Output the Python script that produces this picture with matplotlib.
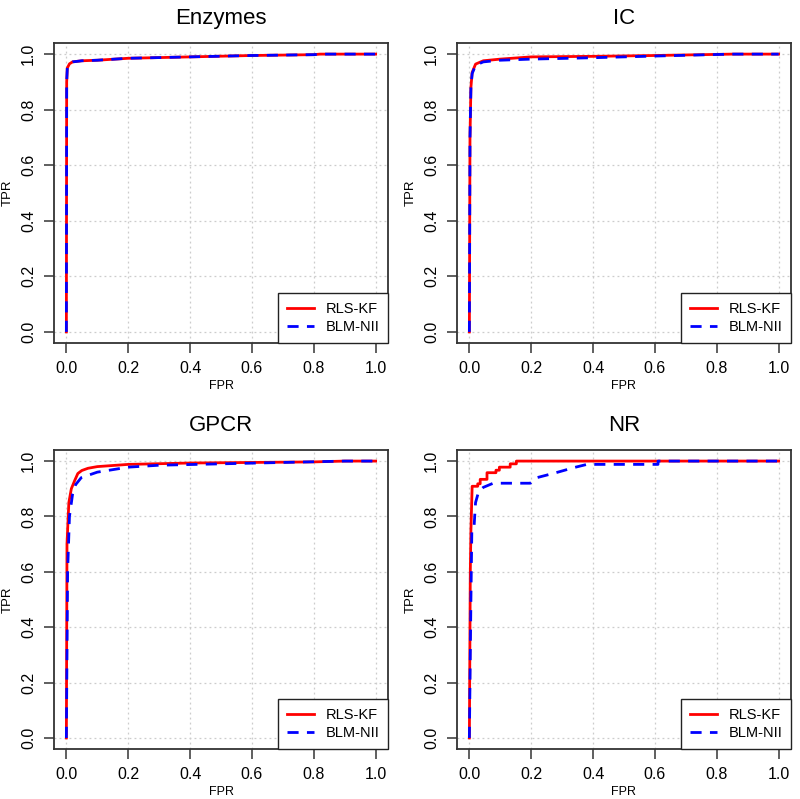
import matplotlib
matplotlib.use("Agg")
import matplotlib.pyplot as plt

plt.rcParams['font.family'] = ['Liberation Sans', 'DejaVu Sans']

titles = ["Enzymes", "IC", "GPCR", "NR"]
series_names = ["RLS-KF", "BLM-NII"]

# ROC curves (FPR, TPR)
enz_rls_fpr = [0, 0.001, 0.003, 0.01, 0.02, 0.05, 0.1, 0.2, 0.4, 0.6, 0.8, 0.82, 1.0]
enz_rls_tpr = [0, 0.9, 0.95, 0.965, 0.972, 0.976, 0.978, 0.985, 0.99, 0.995, 0.998, 1.0, 1.0]
enz_blm_fpr = [0, 0.001, 0.003, 0.01, 0.02, 0.05, 0.1, 0.2, 0.4, 0.6, 0.8, 0.82, 1.0]
enz_blm_tpr = [0, 0.9, 0.95, 0.965, 0.972, 0.976, 0.978, 0.985, 0.99, 0.995, 0.998, 1.0, 1.0]

ic_rls_fpr = [0, 0.002, 0.005, 0.009, 0.02, 0.045, 0.1, 0.2, 0.4, 0.6, 0.85, 1.0]
ic_rls_tpr = [0, 0.7, 0.88, 0.934, 0.964, 0.976, 0.982, 0.99, 0.992, 0.995, 1.0, 1.0]
ic_blm_fpr = [0, 0.002, 0.005, 0.009, 0.02, 0.045, 0.1, 0.2, 0.4, 0.6, 0.85, 1.0]
ic_blm_tpr = [0, 0.7, 0.88, 0.93, 0.96, 0.972, 0.978, 0.982, 0.987, 0.993, 1.0, 1.0]

gpcr_rls_fpr = [0, 0.002, 0.008, 0.016, 0.027, 0.037, 0.05, 0.07, 0.1, 0.2, 0.4, 0.6, 0.8, 0.9, 1.0]
gpcr_rls_tpr = [0, 0.7, 0.85, 0.9, 0.93, 0.955, 0.966, 0.974, 0.98, 0.988, 0.993, 0.995, 0.997, 1.0, 1.0]
gpcr_blm_fpr = [0, 0.004, 0.01, 0.02, 0.03, 0.048, 0.1, 0.2, 0.3, 0.5, 0.7, 0.9, 1.0]
gpcr_blm_tpr = [0, 0.6, 0.8, 0.88, 0.915, 0.94, 0.96, 0.978, 0.985, 0.99, 0.995, 1.0, 1.0]

nr_rls_fpr = [0, 0.003, 0.005, 0.008, 0.009, 0.027, 0.027, 0.035, 0.035, 0.057, 0.057,
              0.086, 0.086, 0.097, 0.097, 0.132, 0.132, 0.143, 0.143, 0.152, 0.152, 1.0]
nr_rls_tpr = [0, 0.6, 0.75, 0.87, 0.909, 0.909, 0.918, 0.918, 0.934, 0.934, 0.958,
              0.958, 0.967, 0.967, 0.978, 0.978, 0.99, 0.99, 0.99, 0.99, 1.0, 1.0]
nr_blm_fpr = [0, 0.005, 0.008, 0.015, 0.02, 0.03, 0.045, 0.077, 0.197, 0.218, 0.28,
              0.34, 0.38, 0.61, 0.61, 1.0]
nr_blm_tpr = [0, 0.5, 0.75, 0.76, 0.85, 0.89, 0.905, 0.92, 0.92, 0.94, 0.958,
              0.977, 0.988, 0.988, 1.0, 1.0]

curves = [
    (enz_rls_fpr, enz_rls_tpr, enz_blm_fpr, enz_blm_tpr),
    (ic_rls_fpr, ic_rls_tpr, ic_blm_fpr, ic_blm_tpr),
    (gpcr_rls_fpr, gpcr_rls_tpr, gpcr_blm_fpr, gpcr_blm_tpr),
    (nr_rls_fpr, nr_rls_tpr, nr_blm_fpr, nr_blm_tpr),
]

ticks = [0.0, 0.2, 0.4, 0.6, 0.8, 1.0]

fig = plt.figure(figsize=(8.0, 7.99), dpi=100)
W, H = 800, 799
# axes boxes in pixels: left, top, right, bottom
boxes = [(54, 43, 388, 343), (457, 43, 791, 343),
         (54, 450, 388, 749), (457, 450, 791, 749)]

for i, (l, t, r, b) in enumerate(boxes):
    ax = fig.add_axes([l / W, (H - b) / H, (r - l) / W, (b - t) / H])
    rf, rt, bf, bt = curves[i]
    ax.plot(rf, rt, color="red", lw=2, label=series_names[0], zorder=3)
    ax.plot(bf, bt, color="blue", lw=2, ls=(0, (4, 3)), label=series_names[1], zorder=4)
    ax.set_xlim(-0.04, 1.04)
    ax.set_ylim(-0.04, 1.04)
    ax.set_xticks(ticks)
    ax.set_yticks(ticks)
    ax.set_xticklabels([f"{v:.1f}" for v in ticks], fontsize=11.5)
    ax.set_yticklabels([f"{v:.1f}" for v in ticks], fontsize=11.5, rotation=90, va="center")
    ax.tick_params(length=7, width=1.2, color="#444444", pad=6)
    ax.grid(True, color="#cccccc", ls=(0, (1.5, 2.5)), lw=0.9)
    for s in ax.spines.values():
        s.set_color("#333333")
        s.set_linewidth(1.3)
    ax.set_title(titles[i], fontsize=16, pad=14)
    ax.set_xlabel("FPR", fontsize=9, labelpad=3)
    ax.set_ylabel("TPR", fontsize=9.5, labelpad=5)
    leg = ax.legend(loc="lower right", borderaxespad=0, fancybox=False,
                    fontsize=10.5, handlelength=1.85, handletextpad=0.8,
                    labelspacing=0.3, borderpad=0.6, framealpha=1)
    leg.get_frame().set_edgecolor("#222222")
    leg.get_frame().set_linewidth(1.0)

fig.savefig("out.png", dpi=100)
